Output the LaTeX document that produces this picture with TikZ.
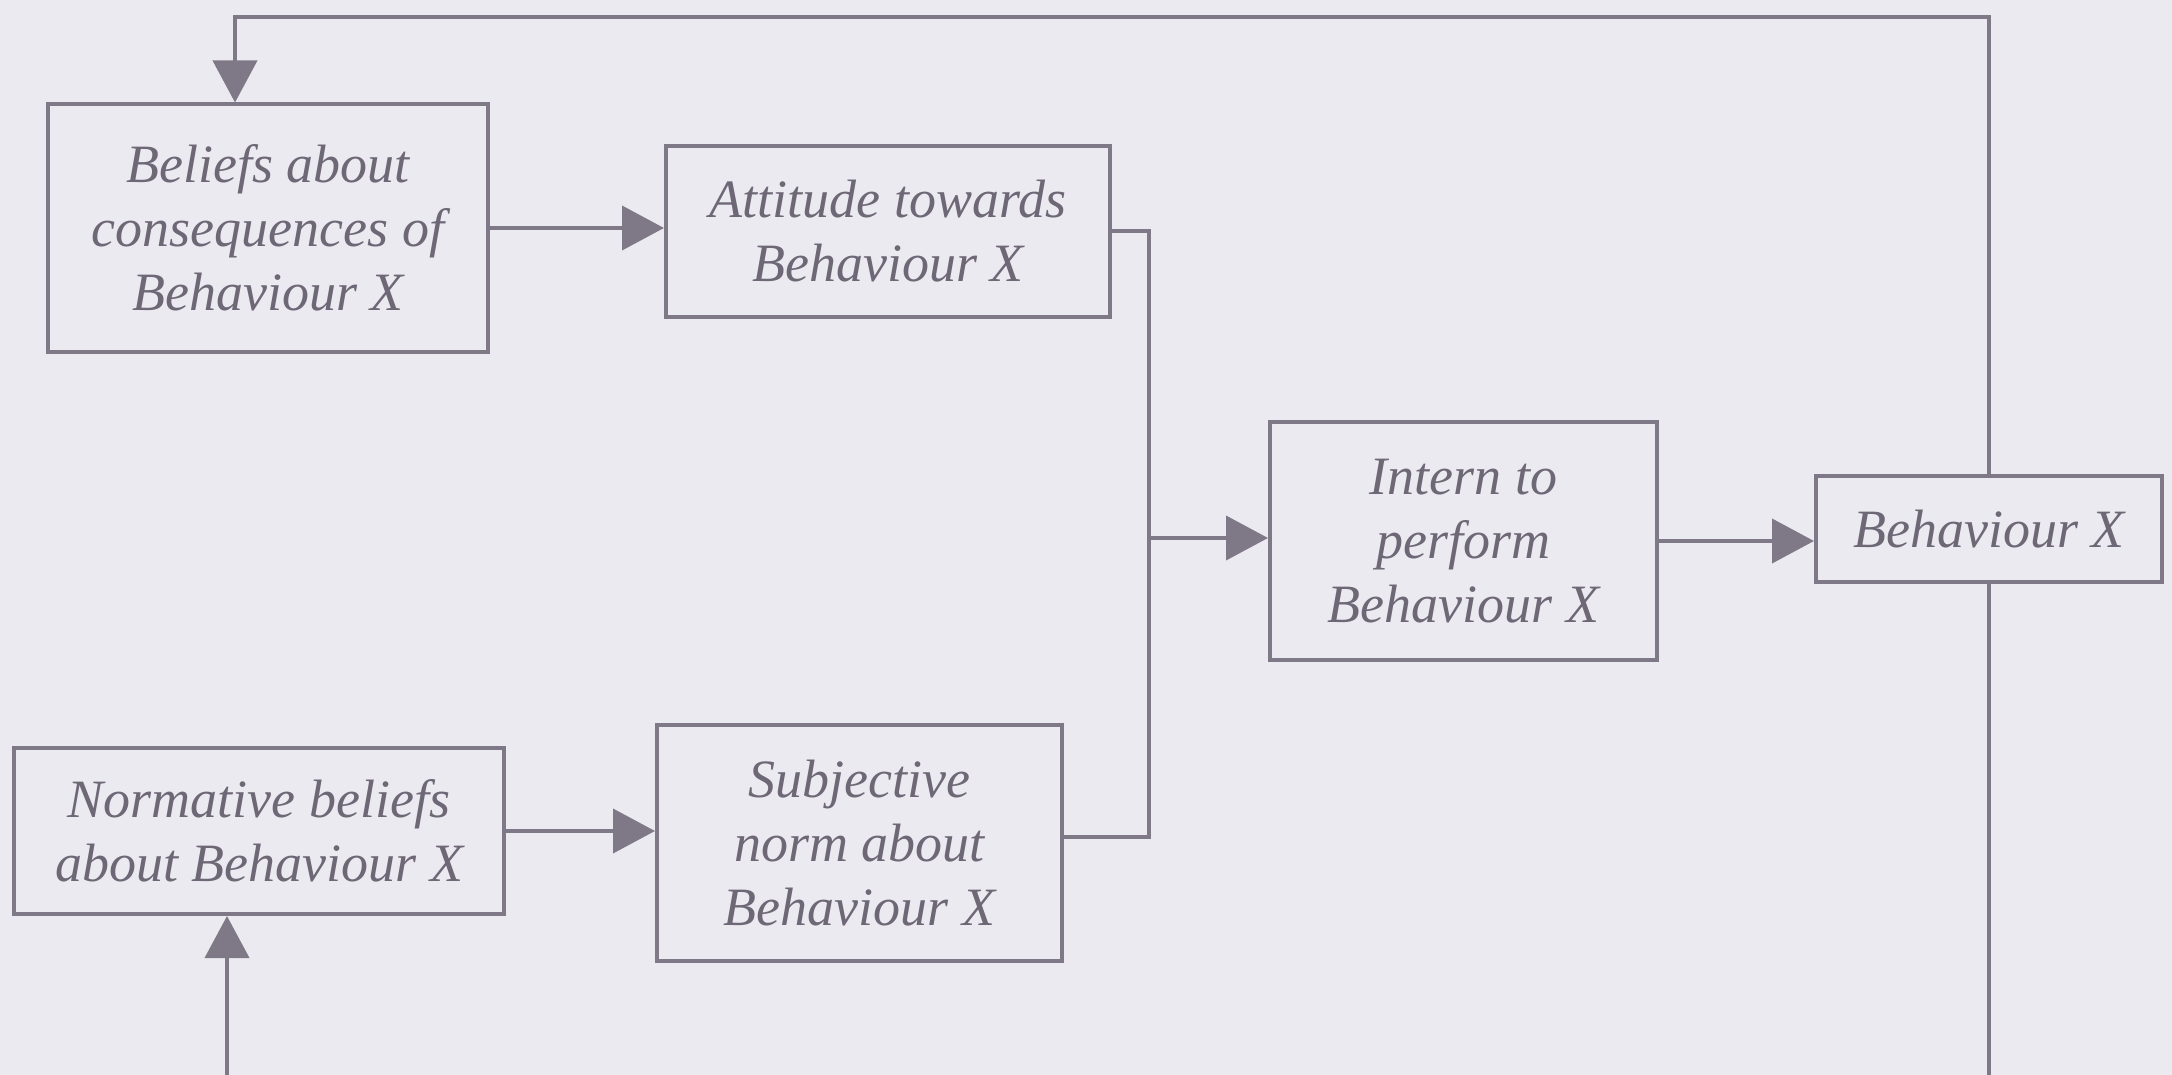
\documentclass[tikz,border=0pt]{standalone}
\usepackage{fontspec}
\setmainfont{Liberation Serif}
\usetikzlibrary{arrows.meta,calc}
\definecolor{bgc}{HTML}{ECEAF1}
\definecolor{linec}{HTML}{7F7987}
\definecolor{txtc}{HTML}{6E6876}
\begin{document}
\begin{tikzpicture}[x=0.5pt,y=-0.5pt,
  boxnode/.style={draw=linec, line width=2pt, fill=bgc, text=txtc, align=center,
    inner sep=0pt, font=\fontsize{27}{32}\selectfont\itshape},
  conn/.style={draw=linec, line width=2pt},
  arr/.style={conn, -{Triangle[length=21pt,width=22pt]}}]
\fill[bgc] (0,0) rectangle (2172,1075);
\useasboundingbox (0,0) rectangle (2172,1075);

\node[boxnode, minimum width=220pt, minimum height=123.5pt] (bel) at (268,228)
  {Beliefs about\\consequences of\\Behaviour X};
\node[boxnode, minimum width=222pt, minimum height=85.5pt] (att) at (888,231.5)
  {Attitude towards\\Behaviour X};
\node[boxnode, minimum width=193.5pt, minimum height=119pt] (int) at (1463.5,541)
  {Intern to\\perform\\Behaviour X};
\node[boxnode, minimum width=173pt, minimum height=53pt] (beh) at (1989,529)
  {Behaviour X};
\node[boxnode, minimum width=245pt, minimum height=83pt] (nor) at (259,831)
  {Normative beliefs\\about Behaviour X};
\node[boxnode, minimum width=202.5pt, minimum height=118pt] (sub) at (859.5,843)
  {Subjective\\norm about\\Behaviour X};

\coordinate (j) at (1149,538);
\coordinate (tl) at (235,17);
\coordinate (br) at (1989,1075);
\coordinate (bl) at (227,1075);
\coordinate (subout) at (1062,837);

\draw[arr] (bel.east) -- (bel.east -| att.west);
\draw[conn] (att.east) -| (j);
\draw[conn] (subout) -| (j);
\draw[arr] (j) -- (j -| int.west);
\draw[arr] (int.east) -- (int.east -| beh.west);
\draw[arr] (nor.east) -- (nor.east -| sub.west);
\draw[arr, line join=miter] (beh.north) |- (tl) -- (tl |- bel.north);
\draw[conn] (beh.south) -- (br);
\draw[arr] (bl) -- (bl |- nor.south);
\end{tikzpicture}
\end{document}
